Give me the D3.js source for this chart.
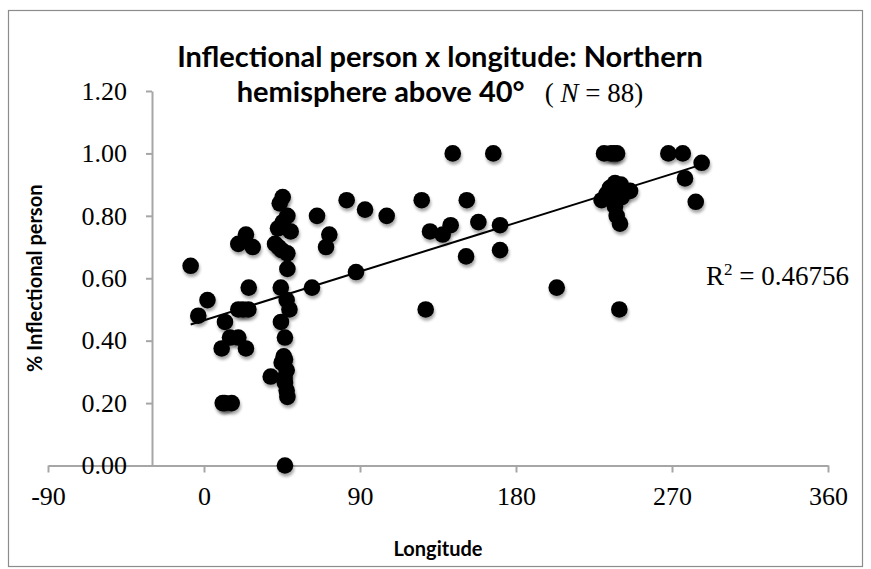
<!DOCTYPE html>
<html>
<head>
<meta charset="utf-8">
<script src="https://cdn.jsdelivr.net/npm/d3@7"></script>
<style>
  body { margin: 0; background: #fff; }
  svg { display: block; }
</style>
</head>
<body>
<div id="chart"></div>
<script>
// longitude (degrees) of each language sample, northern hemisphere above 40
const longitude = [
  -7.7, -3.3, 2.0, 12.1, 10.8, 16.0, 12.0, 10.2, 24.2, 15.0,
  19.8, 19.8, 25.6, 22.5, 19.8, 24.2, 28.1, 25.8, 38.5, 46.7,
  47.7, 46.7, 47.7, 48.1, 46.7, 44.8, 46.0, 46.5, 46.7, 44.4,
  49.3, 47.7, 44.3, 48.1, 41.0, 44.8, 48.1, 43.0, 42.7, 50.0,
  45.5, 48.1, 45.4, 43.7, 65.2, 62.3, 70.4, 72.3, 82.3, 92.9,
  87.7, 105.4, 125.6, 127.9, 130.4, 137.7, 142.3, 143.5, 151.6, 151.2,
  158.3, 166.9, 170.8, 170.8, 203.5, 229.4, 230.8, 234.8, 238.3, 236.5,
  237.1, 234.2, 239.0, 245.8, 232.3, 237.1, 236.0, 240.5, 241.0, 237.1,
  238.1, 240.0, 239.6, 267.9, 276.2, 287.1, 277.5, 283.7
];
// share of inflectional person marking
const inflectional = [
  0.64, 0.48, 0.53, 0.46, 0.20, 0.20, 0.20, 0.375, 0.375, 0.41,
  0.41, 0.50, 0.50, 0.50, 0.71, 0.74, 0.70, 0.57, 0.285, 0.00,
  0.305, 0.265, 0.24, 0.22, 0.34, 0.33, 0.35, 0.28, 0.41, 0.46,
  0.50, 0.53, 0.57, 0.63, 0.71, 0.69, 0.68, 0.70, 0.76, 0.75,
  0.78, 0.80, 0.86, 0.84, 0.80, 0.57, 0.70, 0.74, 0.85, 0.82,
  0.62, 0.80, 0.85, 0.50, 0.75, 0.74, 0.77, 1.00, 0.85, 0.67,
  0.78, 1.00, 0.77, 0.69, 0.57, 0.85, 1.00, 1.00, 1.00, 1.00,
  0.905, 0.89, 0.88, 0.88, 0.87, 0.86, 0.87, 0.90, 0.86, 0.83,
  0.80, 0.775, 0.50, 1.00, 1.00, 0.97, 0.92, 0.845
];
// linear trend line ends
const trendLongitude = [-7.7, 287.1];
const trendValue = [0.452, 0.964];

const xTicks = [-90, 0, 90, 180, 270, 360];
const yTicks = [0, 0.2, 0.4, 0.6, 0.8, 1.0, 1.2];

const width = 871, height = 569;
const serif = "'Liberation Serif', 'DejaVu Serif', serif";
const sans = "Lato, 'Open Sans', sans-serif";

const svg = d3.select("#chart").append("svg")
    .attr("width", width)
    .attr("height", height);

const defs = svg.append("defs");
const shadow = defs.append("filter")
    .attr("id", "shadow")
    .attr("x", "-50%").attr("y", "-50%")
    .attr("width", "200%").attr("height", "200%");
shadow.append("feDropShadow")
    .attr("dx", 1).attr("dy", 3)
    .attr("stdDeviation", 1.8)
    .attr("flood-color", "#000")
    .attr("flood-opacity", 0.35);

// chart frame
svg.append("rect")
    .attr("x", 8.5).attr("y", 10.5)
    .attr("width", 854).attr("height", 556)
    .attr("fill", "none")
    .attr("stroke", "#8c8c8c")
    .attr("stroke-width", 1.2);

const x = d3.scaleLinear().domain([-90, 360]).range([48, 828]);
const y = d3.scaleLinear().domain([0, 1.2]).range([465.5, 91]);

const axisColor = "#a6a6a6";

// x axis at y = 0
const gx = svg.append("g")
    .attr("transform", "translate(0," + y(0) + ")")
    .call(d3.axisBottom(x).tickValues(xTicks).tickSize(7).tickSizeOuter(0).tickPadding(14)
        .tickFormat(d => String(d)));

// y axis crosses at -30
const gy = svg.append("g")
    .attr("transform", "translate(" + x(-30) + ",0)")
    .call(d3.axisLeft(y).tickValues(yTicks).tickSize(6).tickSizeOuter(0).tickPadding(19)
        .tickFormat(d3.format(".2f")));

[gx, gy].forEach(g => {
    g.select(".domain").attr("stroke", axisColor).attr("stroke-width", 2);
    g.selectAll(".tick line").attr("stroke", axisColor).attr("stroke-width", 2);
    g.selectAll(".tick text")
        .attr("fill", "#000")
        .style("font-family", serif)
        .style("font-size", "26px");
});

// points
svg.append("g")
    .selectAll("circle")
    .data(longitude)
    .enter()
    .append("circle")
    .attr("cx", d => x(d))
    .attr("cy", (d, i) => y(inflectional[i]))
    .attr("r", 8.3)
    .attr("fill", "#000")
    .attr("filter", "url(#shadow)");

// trend line
const trendLine = d3.line()
    .x(d => x(d))
    .y((d, i) => y(trendValue[i]));

svg.append("path")
    .datum(trendLongitude)
    .attr("d", trendLine)
    .attr("fill", "none")
    .attr("stroke", "#000")
    .attr("stroke-width", 2);

// R squared label
const r2 = svg.append("text")
    .attr("x", 706).attr("y", 285)
    .style("font-family", serif)
    .style("font-size", "27px");
r2.append("tspan").text("R");
r2.append("tspan").attr("dy", -10).style("font-size", "17px").text("2");
r2.append("tspan").attr("dy", 10).text(" = 0.46756");

// title
svg.append("text")
    .attr("x", 440).attr("y", 67)
    .attr("text-anchor", "middle")
    .style("font-family", sans)
    .style("font-weight", "bold")
    .style("font-size", "29px")
    .text("Inflectional person x longitude: Northern");

const t2 = svg.append("text")
    .attr("x", 440).attr("y", 102)
    .attr("text-anchor", "middle")
    .style("font-family", sans)
    .style("font-size", "29px");
t2.append("tspan").style("font-weight", "bold").text("hemisphere above 40°");
t2.append("tspan").attr("xml:space", "preserve")
    .style("font-family", serif).style("font-size", "27px").text("   ( ");
t2.append("tspan")
    .style("font-family", serif).style("font-size", "27px")
    .style("font-style", "italic").text("N");
t2.append("tspan")
    .style("font-family", serif).style("font-size", "27px").text(" = 88)");

// axis titles
svg.append("text")
    .attr("x", 438).attr("y", 556)
    .attr("text-anchor", "middle")
    .style("font-family", sans)
    .style("font-weight", "bold")
    .style("font-size", "20px")
    .text("Longitude");

svg.append("text")
    .attr("transform", "translate(42," + y(0.6) + ") rotate(-90)")
    .attr("text-anchor", "middle")
    .style("font-family", sans)
    .style("font-weight", "bold")
    .style("font-size", "20px")
    .text("% Inflectional person");
</script>
</body>
</html>
